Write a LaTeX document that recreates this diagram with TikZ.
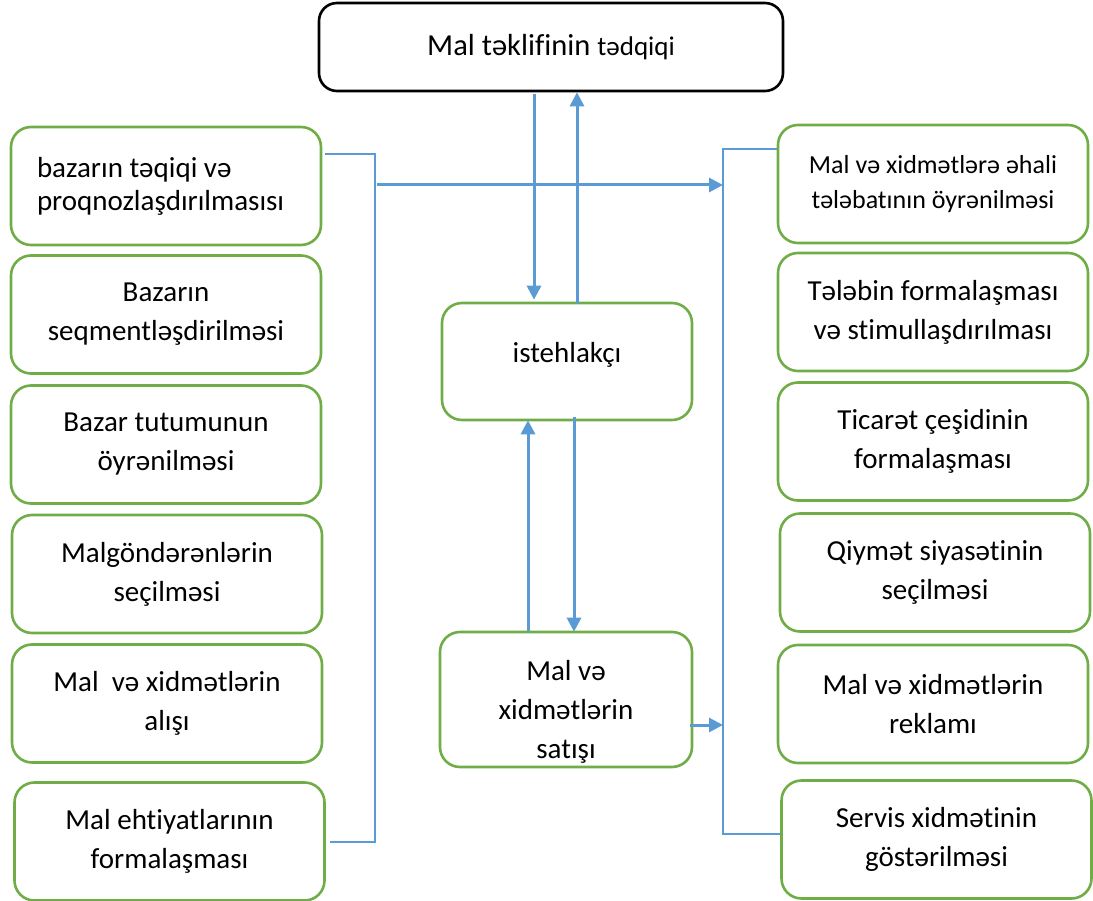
\documentclass[tikz,border=0pt]{standalone}
\usepackage{fontspec}
\setmainfont{Carlito}[Ligatures=NoCommon]
\usetikzlibrary{arrows.meta,calc}
\definecolor{gr}{HTML}{70AD47}
\definecolor{bl}{HTML}{5B9BD5}
\begin{document}
\begin{tikzpicture}[x=1pt,y=-1pt,
  gbox/.style={draw=gr, line width=2.6pt, rounded corners=20pt, align=center, inner sep=0pt,
               minimum width=310pt, minimum height=118pt, font=\fontsize{29}{39}\selectfont},
  txt/.style={align=center, inner sep=0pt, font=\fontsize{29}{39}\selectfont},
  arr/.style={draw=bl, line width=3pt, -{Triangle[width=14pt,length=14pt]}},
  thinline/.style={draw=bl, line width=1.5pt},
]
\useasboundingbox (0,0) rectangle (1093,901);

% top box
\node[draw=black, line width=2.6pt, rounded corners=18pt, minimum width=464pt, minimum height=88pt,
      inner sep=0pt, font=\fontsize{30.5}{36}\selectfont] (T) at (551,47)
  {Mal təklifinin {\fontsize{27}{32}\selectfont tədqiqi}};

% left column
\node[gbox, align=flush left, text width=258pt, font=\fontsize{29}{33}\selectfont] (L1) at (166,186) {bazarın təqiqi və\\proqnozlaşdırılmasısı};
\node[gbox] (L2) at (166,314.5) {Bazarın\\seqmentləşdirilməsi};
\node[gbox] (L3) at (166,444.5) {Bazar tutumunun\\öyrənilməsi};
\node[gbox] (L4) at (167,574) {Malgöndərənlərin\\seçilməsi};
\node[gbox] (L5) at (167,703.5) {Mal~ və xidmətlərin\\alışı};
\node[gbox] (L6) at (169.5,841.5) {Mal ehtiyatlarının\\formalaşması};

% right column
\node[gbox, font=\fontsize{26}{35}\selectfont] (R1) at (933,184) {Mal və xidmətlərə əhali\\tələbatının öyrənilməsi};
\node[gbox] (R2) at (933,312) {Tələbin formalaşması\\və stimullaşdırılması};
\node[gbox] (R3) at (933,441.5) {Ticarət çeşidinin\\formalaşması};
\node[gbox] (R4) at (935,572.5) {Qiymət siyasətinin\\seçilməsi};
\node[gbox] (R5) at (933,704) {Mal və xidmətlərin\\reklamı};
\node[gbox] (R6) at (936.5,839.5) {Servis xidmətinin\\göstərilməsi};

% center boxes
\node[gbox, minimum width=250pt, minimum height=117pt] (C1) at (567,361.5) {};
\node[txt] (C1t) at ($(C1.center)+(0,-7)$) {istehlakçı};
\node[gbox, minimum width=252pt, minimum height=135pt] (C2) at (566,699.5) {};
\node[txt] (C2t) at ($(C2.center)+(0,12)$) {Mal və\\xidmətlərin\\satışı};

% coordinates for connectors
\coordinate (lt) at (375,154);
\coordinate (lb) at (375,842);
\coordinate (rt) at (723,149);
\coordinate (rb) at (723,834);
\coordinate (hm) at (377,185);
\coordinate (sa) at (690,725);
\coordinate (v1) at (534,0);
\coordinate (v2) at (577,0);
\coordinate (v3) at (528,0);
\coordinate (v4) at (574,0);

% brackets
\draw[thinline] ([xshift=3pt]L1.east |- lt) -- (lt) -- (lb) -- ([xshift=4pt]L6.east |- lb);
\draw[thinline] (R1.west |- rt) -- (rt) -- (rb) -- (R6.west |- rb);

% arrows
\draw[arr] (hm) -- (rt |- hm);
\draw[arr] (sa) -- (rt |- sa);
\draw[arr, shorten >=2pt] ([yshift=-2pt]T.south -| v1) -- (C1.north -| v1);
\draw[arr] ([yshift=-2pt]C1.north -| v2) -- (T.south -| v2);
\draw[arr, shorten >=-1pt] (C2.north -| v3) -- (C1.south -| v3);
\draw[arr, shorten >=-1pt] ([yshift=4pt]C1.south -| v4) -- (C2.north -| v4);
\end{tikzpicture}
\end{document}
